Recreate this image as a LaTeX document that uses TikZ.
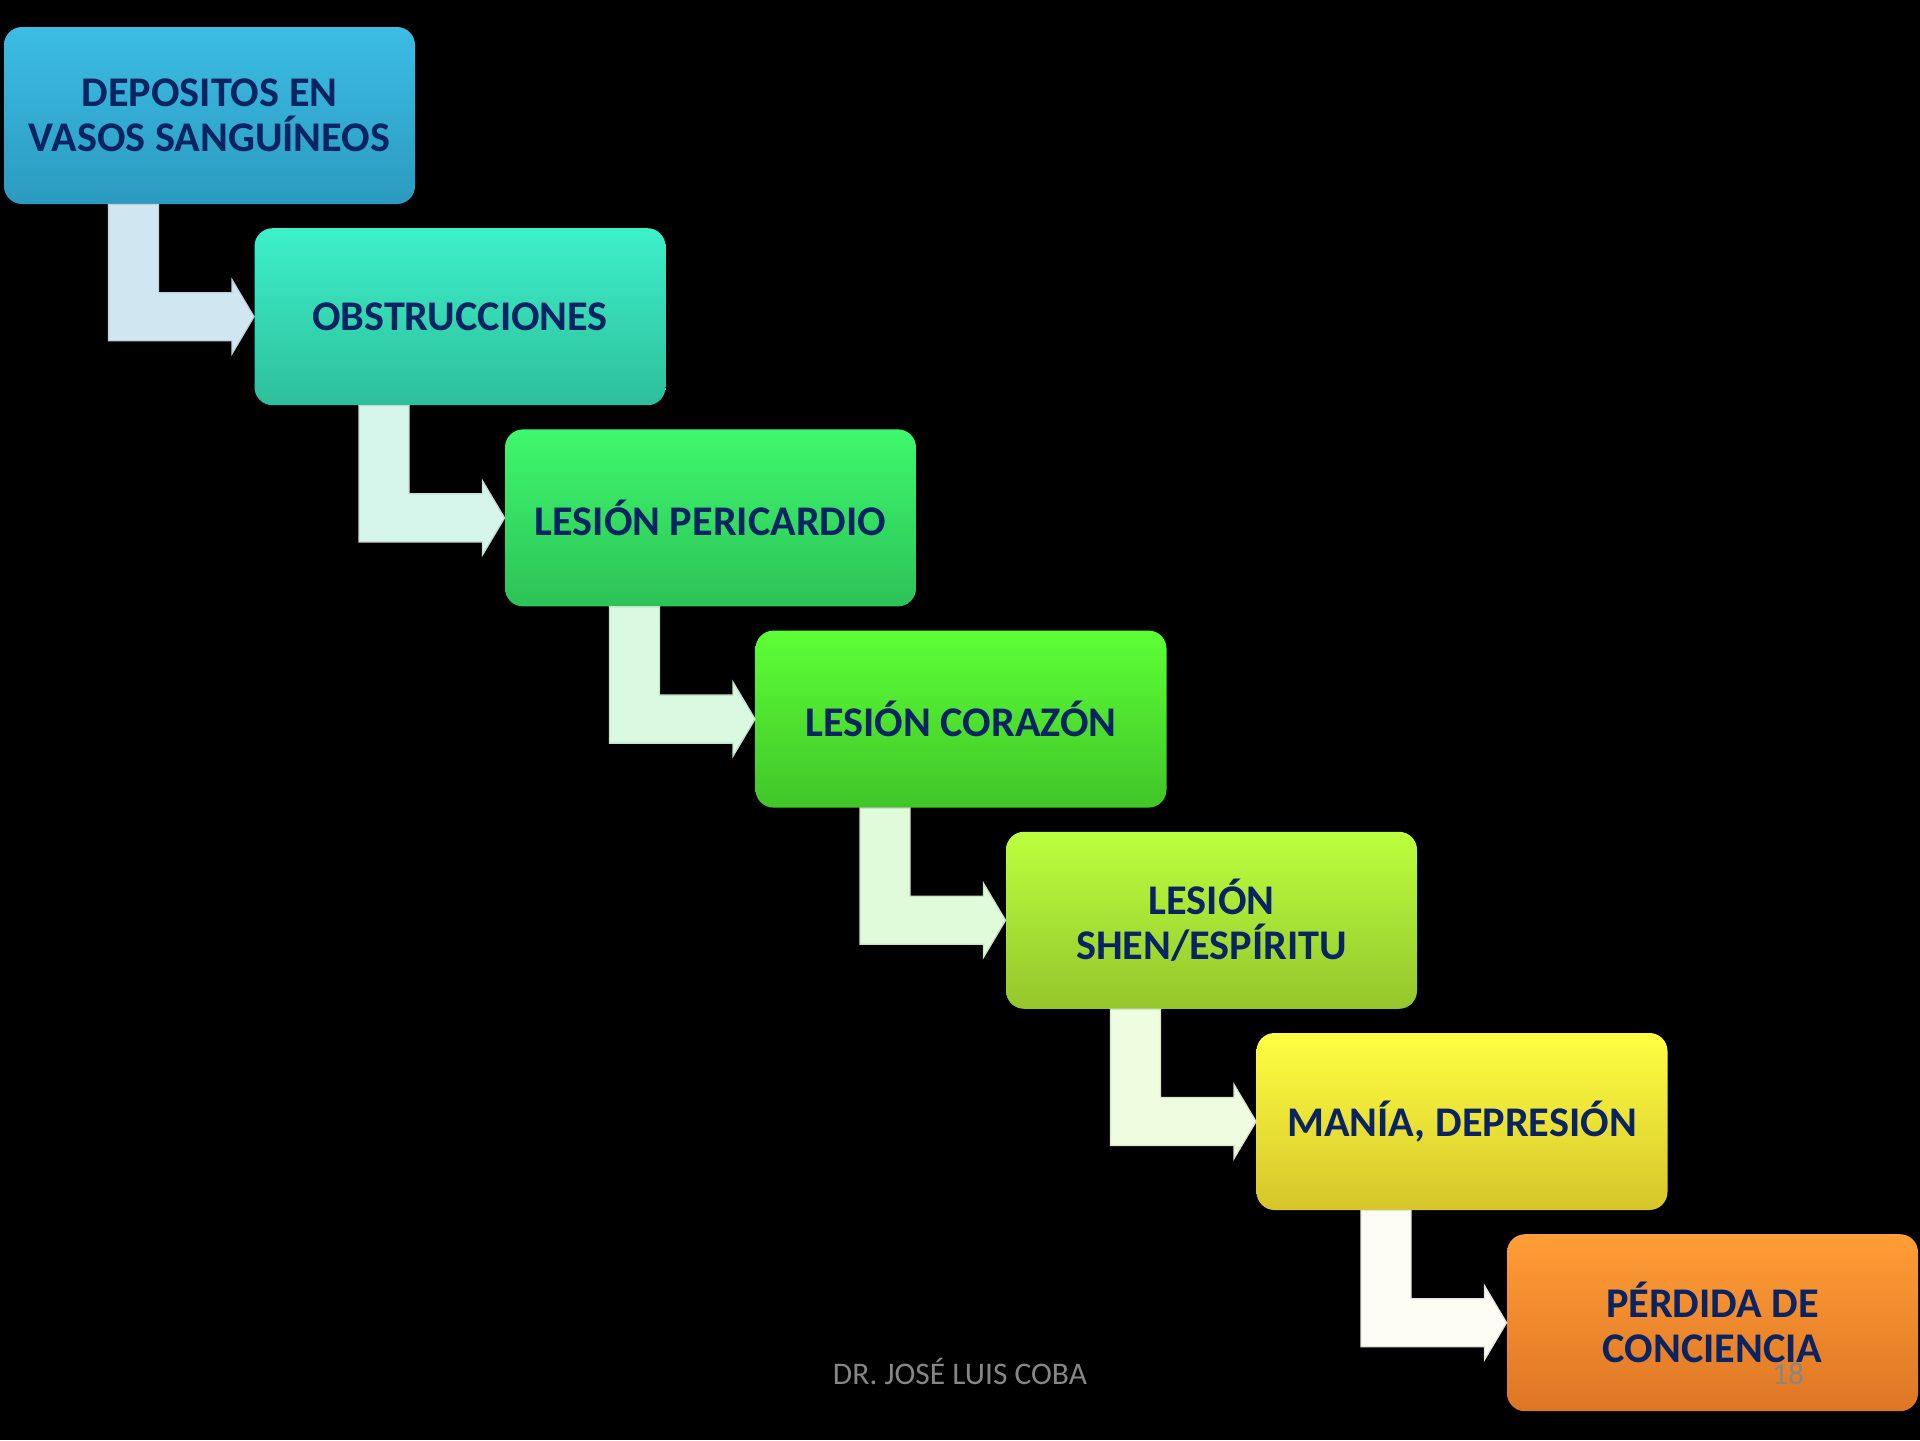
\documentclass[tikz,border=0pt]{standalone}
\usepackage{fontspec}
\setmainfont{Carlito}
\usetikzlibrary{calc}

\definecolor{txtnavy}{HTML}{0A2463}
\definecolor{footgray}{HTML}{868686}
\definecolor{boxAtop}{HTML}{3CBDE4}
\definecolor{boxAbot}{HTML}{2B9AC0}
\definecolor{boxBtop}{HTML}{3DF0C9}
\definecolor{boxBbot}{HTML}{2DBF9C}
\definecolor{boxCtop}{HTML}{3EF86C}
\definecolor{boxCbot}{HTML}{2CC257}
\definecolor{boxDtop}{HTML}{5CFF36}
\definecolor{boxDbot}{HTML}{40C528}
\definecolor{boxEtop}{HTML}{BCFF3E}
\definecolor{boxEbot}{HTML}{93C62C}
\definecolor{boxFtop}{HTML}{FFFF42}
\definecolor{boxFbot}{HTML}{D6C52A}
\definecolor{boxGtop}{HTML}{FF9D36}
\definecolor{boxGbot}{HTML}{DD7624}
\definecolor{arrowA}{HTML}{D0E6F1}
\definecolor{arrowB}{HTML}{D6F6EC}
\definecolor{arrowC}{HTML}{D9F9E0}
\definecolor{arrowD}{HTML}{DFFBDA}
\definecolor{arrowE}{HTML}{EEFDE0}
\definecolor{arrowF}{HTML}{FDFDF4}

\tikzset{every picture/.style={line width=0.75pt}}
\tikzset{
	stepbox/.style={rounded corners=13.5pt, minimum width=308.25pt, minimum height=132.75pt, inner sep=0pt, align=center, text=txtnavy, font=\fontsize{31.7}{34}\selectfont\bfseries},
	bend arrow/.style={draw=#1!80!gray, fill=#1, line width=1pt, line join=miter},
	footer/.style={text=footgray, font=\fontsize{23.6}{28}\selectfont, anchor=base, inner sep=0pt}
}

\begin{document}
\begin{tikzpicture}[x=0.75pt,y=0.75pt,yscale=-1,xscale=1]
	%background, sets the page size
	\fill[black] (0,0) rectangle (1920,1440);
	
	%Boxes
	\node[stepbox, top color=boxAtop, bottom color=boxAbot] (depositos) at (209.5,115.5) {DEPOSITOS EN\\VASOS SANGUÍNEOS};
	\node[stepbox, top color=boxBtop, bottom color=boxBbot] (obstrucciones) at (460,316.7) {OBSTRUCCIONES};
	\node[stepbox, top color=boxCtop, bottom color=boxCbot] (pericardio) at (710.5,517.9) {LESIÓN PERICARDIO};
	\node[stepbox, top color=boxDtop, bottom color=boxDbot] (corazon) at (961,719.1) {LESIÓN CORAZÓN};
	\node[stepbox, top color=boxEtop, bottom color=boxEbot] (shen) at (1211.5,920.3) {LESIÓN\\SHEN/ESPÍRITU};
	\node[stepbox, top color=boxFtop, bottom color=boxFbot] (mania) at (1462,1121.5) {MANÍA, DEPRESIÓN};
	\node[stepbox, top color=boxGtop, bottom color=boxGbot] (perdida) at (1712.5,1322.7) {PÉRDIDA DE\\CONCIENCIA};
	
	%Bent arrows between the boxes
	\foreach \from/\to/\col in {depositos/obstrucciones/arrowA, obstrucciones/pericardio/arrowB, pericardio/corazon/arrowC, corazon/shen/arrowD, shen/mania/arrowE, mania/perdida/arrowF}
	\filldraw[bend arrow=\col] ($(\from.south west)+(105,0)$) -- ++(50,0) |- ($(\to.west)+(-22,-24)$) -- ++(0,-13) -- (\to.west) -- ++(-22,37) -- ++(0,-13) -| ($(\from.south west)+(105,0)$) -- cycle;
	
	% Text Node
	\node[footer] (author) at (960,1384) {DR. JOSÉ LUIS COBA};
	% Text Node
	\node[footer] (pagenum) at (1788,1384) {18};
\end{tikzpicture}
\end{document}
